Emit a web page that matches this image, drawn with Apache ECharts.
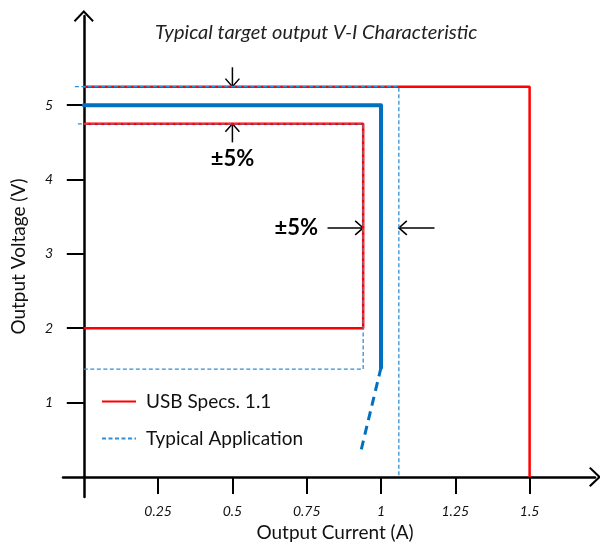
<!DOCTYPE html>
<html>
<head>
<meta charset="utf-8">
<script src="https://cdn.jsdelivr.net/npm/echarts@6/dist/echarts.min.js"></script>
<style>
html, body { margin: 0; padding: 0; background: #fff; }
#chart { width: 600px; height: 544px; }
</style>
</head>
<body>
<div id="chart"></div>
<script>
// tick values
const xTicks = [0.25, 0.5, 0.75, 1, 1.25, 1.5]
const yTicks = [1, 2, 3, 4, 5]

// USB Specs. 1.1 limits (red)
const usbOuter = [[0, 5.25], [1.5, 5.25], [1.5, 0]]
const usbInner = [[0, 4.75], [0.94, 4.75], [0.94, 2], [0, 2]]

// typical application limits (thin dashed blue)
const typOuter = [[-0.03, 5.25], [1.06, 5.25], [1.06, 0]]
const typInner = [[-0.02, 4.75], [0.94, 4.75], [0.94, 1.45], [0, 1.45]]

// typical target curve (thick blue) and its foldback
const targetCurve = [[0, 5], [1, 5], [1, 1.47]]
const foldback = [[1, 1.47], [0.93, 0.31]]

// ±5% annotations: arrows [x1, y1, x2, y2] and labels [x, y, text]
const arrows = [
  [0.5, 5.51, 0.5, 5.25],
  [0.5, 4.5, 0.5, 4.75],
  [0.82, 3.35, 0.94, 3.35],
  [1.18, 3.35, 1.06, 3.35]
]
const notes = [[0.5, 4.28, '±5%'], [0.715, 3.35, '±5%']]

const FONT = 'Lato, "Open Sans", sans-serif'
const RED = '#ff0000'
const BLUE = '#0070c0'
const LIGHT_BLUE = '#2f8fd6'
// open chevron used as axis arrow head
const CHEVRON = 'path://M10,0 L20,10.5 L18.6,12 L10,3 L1.4,12 L0,10.5 Z'

const chart = echarts.init(document.getElementById('chart'))

function renderArrow(params, api) {
  const p1 = api.coord([api.value(0), api.value(1)])
  const p2 = api.coord([api.value(2), api.value(3)])
  const dx = p2[0] - p1[0]
  const dy = p2[1] - p1[1]
  const len = Math.sqrt(dx * dx + dy * dy)
  const ux = dx / len, uy = dy / len
  const nx = -uy, ny = ux
  const head = 8, half = 7
  return {
    type: 'group',
    children: [
      {
        type: 'line',
        shape: { x1: p1[0], y1: p1[1], x2: p2[0], y2: p2[1] },
        style: { stroke: '#000', lineWidth: 1.5 }
      },
      {
        type: 'polyline',
        shape: {
          points: [
            [p2[0] - ux * head + nx * half, p2[1] - uy * head + ny * half],
            p2,
            [p2[0] - ux * head - nx * half, p2[1] - uy * head - ny * half]
          ]
        },
        style: { stroke: '#000', lineWidth: 1.5, fill: null }
      }
    ]
  }
}

function renderNote(params, api) {
  const p = api.coord([api.value(0), api.value(1)])
  return {
    type: 'text',
    x: p[0],
    y: p[1],
    style: {
      text: notes[params.dataIndex][2],
      font: 'bold 22px ' + FONT,
      fill: '#000',
      align: 'center',
      verticalAlign: 'middle'
    }
  }
}

const option = {
  animation: false,
  backgroundColor: '#fff',
  title: {
    text: 'Typical target output V-I Characteristic',
    left: 150,
    top: 18,
    textStyle: { fontFamily: FONT, fontStyle: 'italic', fontWeight: 'normal', fontSize: 20, color: '#222' }
  },
  grid: {
    left: 63,
    top: 16,
    width: 532,
    height: 481,
    outerBoundsMode: 'none'
  },
  legend: {
    orient: 'vertical',
    left: 96,
    top: 387,
    itemWidth: 34,
    itemHeight: 16,
    itemGap: 18,
    data: ['USB Specs. 1.1', 'Typical Application'],
    itemStyle: { opacity: 0 },
    textStyle: { fontFamily: FONT, fontSize: 19, color: '#111', padding: [0, 0, 0, 5] }
  },
  xAxis: {
    type: 'value',
    min: -0.07,
    max: 1.72,
    name: 'Output Current (A)',
    nameLocation: 'middle',
    nameGap: 22,
    nameTextStyle: { fontFamily: FONT, fontSize: 19, color: '#111', padding: [0, 0, 0, 12] },
    axisLine: {
      onZero: true,
      symbol: ['none', CHEVRON],
      symbolSize: [20, 12],
      lineStyle: { color: '#000', width: 2.5 }
    },
    axisTick: { customValues: xTicks, length: 17, lineStyle: { color: '#000', width: 2 } },
    axisLabel: {
      customValues: xTicks,
      margin: 7,
      fontFamily: FONT,
      fontStyle: 'italic',
      fontSize: 14,
      color: '#111'
    },
    splitLine: { show: false }
  },
  yAxis: {
    type: 'value',
    min: -0.27,
    max: 6.2,
    name: 'Output Voltage (V)',
    nameLocation: 'middle',
    nameGap: 35,
    nameTextStyle: { fontFamily: FONT, fontSize: 19, color: '#111' },
    axisLine: {
      onZero: true,
      symbol: ['none', CHEVRON],
      symbolSize: [20, 12],
      lineStyle: { color: '#000', width: 2.5 }
    },
    axisTick: { customValues: yTicks, length: 17, lineStyle: { color: '#000', width: 2 } },
    axisLabel: {
      customValues: yTicks,
      margin: 10,
      fontFamily: FONT,
      fontStyle: 'italic',
      fontSize: 14,
      color: '#111'
    },
    splitLine: { show: false }
  },
  series: [
    {
      name: 'USB Specs. 1.1',
      type: 'line',
      data: usbOuter,
      symbol: 'none',
      lineStyle: { color: RED, width: 2.5 },
      itemStyle: { color: RED }
    },
    {
      name: 'USB Specs. 1.1',
      type: 'line',
      data: usbInner,
      symbol: 'none',
      lineStyle: { color: RED, width: 2.5 },
      itemStyle: { color: RED }
    },
    {
      name: 'Target',
      type: 'line',
      data: targetCurve,
      symbol: 'none',
      lineStyle: { color: BLUE, width: 4, cap: 'round', join: 'round' }
    },
    {
      name: 'Foldback',
      type: 'line',
      data: foldback,
      symbol: 'none',
      lineStyle: { color: BLUE, width: 3, type: [9, 6] }
    },
    {
      name: 'Typical Application',
      type: 'line',
      data: typOuter,
      symbol: 'none',
      lineStyle: { color: LIGHT_BLUE, width: 1.3, type: [4, 2.5] },
      itemStyle: { color: LIGHT_BLUE }
    },
    {
      name: 'Typical Application',
      type: 'line',
      data: typInner,
      symbol: 'none',
      lineStyle: { color: LIGHT_BLUE, width: 1.3, type: [4, 2.5] },
      itemStyle: { color: LIGHT_BLUE }
    },
    {
      name: 'arrows',
      type: 'custom',
      data: arrows,
      encode: { x: [0, 2], y: [1, 3] },
      renderItem: renderArrow,
      silent: true
    },
    {
      name: 'notes',
      type: 'custom',
      data: notes.map(n => [n[0], n[1]]),
      encode: { x: 0, y: 1 },
      renderItem: renderNote,
      silent: true
    }
  ]
}

chart.setOption(option)
</script>
</body>
</html>
